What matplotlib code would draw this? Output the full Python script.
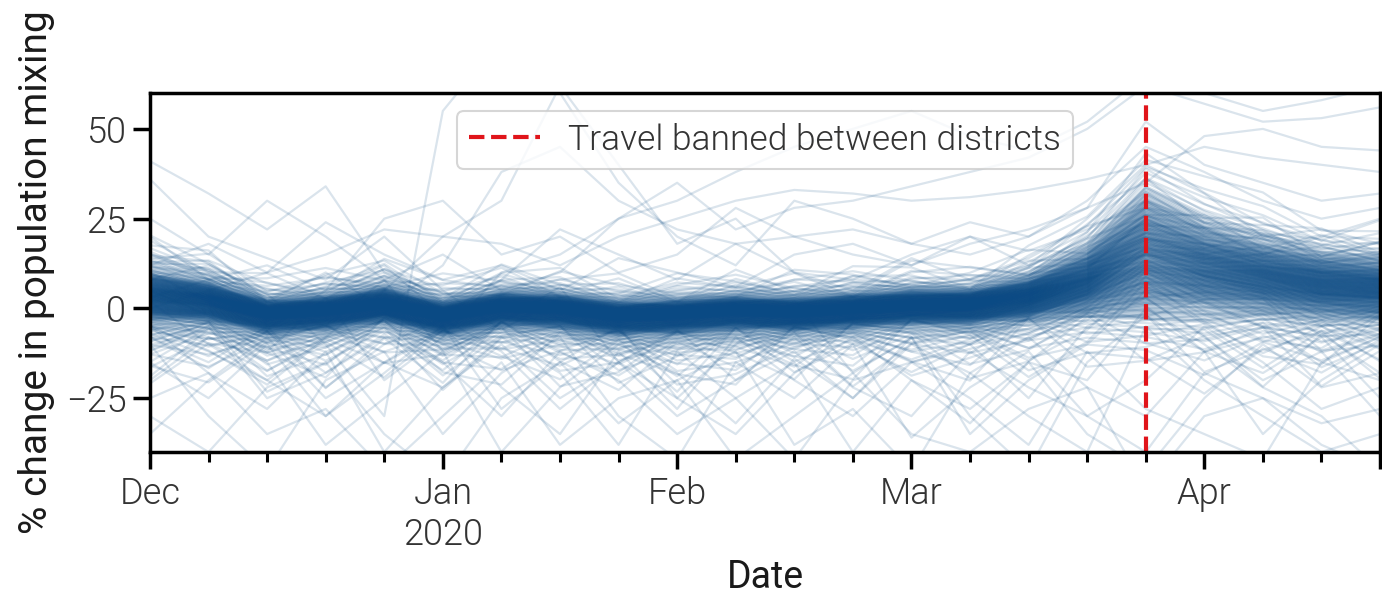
import numpy as np
import pandas as pd
import matplotlib
matplotlib.use("Agg")
import matplotlib.pyplot as plt

# Weekly dates (week ending Sunday)
weeks = pd.date_range("2019-12-01", periods=22, freq="W-SUN")
ban_date = "2020-03-29"

# Typical district trajectory and spread of the bulk of districts
median = [4, 2.5, -1.5, -0.5, 1.5, -2, 0.5, 0, -2, -1.5, -0.5, -1, 0, 1, 1, 3,
          6.5, 12, 10, 8, 6, 5]
spread_hi = [4.5, 3.5, 2.8, 2.8, 3, 2.8, 2.8, 2.8, 2.8, 2.8, 2.8, 2.8, 2.8, 3, 3, 3.5,
             4.5, 6.5, 5.5, 5, 4.5, 4.5]
spread_lo = [4.5, 3.8, 3.2, 3.2, 3.2, 3.2, 3.2, 3.2, 3.2, 3.2, 3.2, 3.2, 3.2, 3.2, 3.2, 3.6,
             4.2, 5.5, 5.5, 5.2, 4.8, 4.8]
surge = [0, 0, 0, 0, 0, 0, 0, 0, 0, 0, 0, 0, 0, 0, 0.5, 1.5, 5, 13, 8, 5.5, 4.5, 4]

# District offsets (in spread units), surge sensitivities and weekly wiggles
offsets = [-4.0, -3.4, -2.9, -2.5, -2.2, -1.9, -1.65,
           -1.45, -1.38, -1.31, -1.24, -1.17, -1.1, -1.04, -0.98, -0.92, -0.86,
           -0.8, -0.74, -0.68, -0.62, -0.56, -0.5, -0.45, -0.4, -0.35, -0.3,
           -0.25, -0.2, -0.15, -0.1, -0.05, 0.0, 0.05, 0.1, 0.15, 0.2, 0.25, 0.3,
           0.35, 0.4, 0.46, 0.52, 0.58, 0.64, 0.7, 0.77, 0.84, 0.91, 0.98, 1.05,
           1.12,
           1.3, 1.55, 1.85, 2.2, 2.7]
surge_weights = [-0.6, -0.2, 0.1, 0.4, 0.8, 1.2]
wiggles = [
    [0.6, -0.4, 0.8, -0.9, 0.3, -0.6, 0.9, -0.2, -0.8, 0.5, -0.3, 0.7, -0.9, 0.2, 0.6, -0.5, 0.1, 0.4, -0.7, 0.5, -0.2, 0.8],
    [-0.5, 0.7, -0.3, 0.4, -0.8, 0.9, -0.1, -0.7, 0.6, -0.9, 0.8, -0.4, 0.3, -0.6, 0.2, 0.9, -0.5, -0.2, 0.6, -0.8, 0.7, -0.3],
    [0.9, 0.1, -0.7, 0.5, 0.8, -0.3, -0.9, 0.6, 0.2, -0.4, -0.8, 0.9, 0.4, -0.7, -0.2, 0.3, 0.8, -0.6, -0.1, 0.7, -0.9, 0.2],
    [-0.2, -0.8, 0.5, 0.9, -0.4, 0.2, 0.7, -0.9, -0.3, 0.8, 0.1, -0.6, 0.9, 0.5, -0.8, -0.4, 0.6, 0.3, -0.9, -0.1, 0.5, -0.7],
    [0.3, 0.9, -0.9, -0.2, 0.6, -0.8, 0.4, 0.8, -0.6, 0.1, 0.5, -0.2, -0.7, 0.9, 0.4, -0.9, -0.3, 0.7, 0.2, -0.5, -0.6, 0.9],
    [-0.7, 0.3, 0.2, -0.6, 0.9, 0.5, -0.5, 0.1, 0.9, -0.7, -0.5, 0.3, 0.6, -0.3, -0.9, 0.7, 0.2, -0.8, 0.5, 0.9, -0.4, -0.1],
]
wiggle_scale = 0.6

# Districts with unusual mixing patterns
outliers = [
    [41, 32, 22, 34, 10, 4, 2, -3, 0, 2, -4, 1, 3, -2, 0, 4, 8, 15, 9, 6, 4, 3],
    [36, 20, 14, 8, 20, 5, -6, 3, 1, -5, 0, 2, -3, 1, 2, 5, 11, 25, 18, 12, 10, 8],
    [8, 12, 4, -10, -30, 55, 75, 60, 35, 20, 12, 30, 25, 18, 15, 20, 30, 45, 38, 30, 25, 28],
    [-5, -12, -20, -8, 5, 20, 30, 62, 40, 18, 25, 10, 8, 15, 20, 12, 25, 40, 32, 20, 22, 18],
    [-15, -25, -10, -30, -18, -5, -22, -35, -12, -28, -8, -20, -30, -15, -10, -25, -5, 3, -8, -20, -12, -30],
    [-10, -30, -45, -20, -12, -35, -18, -8, -30, -42, -15, -25, -10, -36, -22, -12, -30, -20, -5, -15, -28, -22],
    [-20, -8, -15, -38, -25, -12, -40, -22, -10, -18, -32, -14, -25, -8, -30, -45, -15, -2, -12, -35, -20, -10],
    [12, 18, 10, 24, 15, 8, 12, 5, 14, 10, 6, 15, 18, 12, 20, 16, 22, 30, 24, 20, 18, 15],
    [0, 5, 10, 15, 22, 20, 18, 12, 20, 25, 30, 33, 32, 30, 31, 33, 36, 40, 45, 42, 40, 38],
    [-25, -18, -35, -28, -45, -30, -15, -38, -25, -20, -42, -30, -18, -35, -40, -28, -22, -50, -30, -25, -38, -45],
    [5, -2, -12, 3, -20, -8, 10, 15, 25, 30, 38, 45, 50, 55, 48, 44, 52, 65, 60, 55, 58, 62],
    [-8, -15, -5, -22, -10, -3, -12, -28, -15, -6, -20, -12, -25, -10, -18, -8, -22, -30, -12, -18, -8, -25],
    [15, 10, 2, -5, 8, -12, -4, 6, -15, -25, -10, 2, -18, -8, -35, -20, -10, 5, 2, -5, -15, -8],
    [-30, -40, -22, -15, -35, -48, -25, -15, -32, -20, -12, -38, -28, -45, -18, -30, -40, -5, -20, -30, -40, -35],
    [20, 8, 12, 5, 25, 30, 15, 20, 10, 15, 28, 20, 22, 18, 24, 20, 28, 52, 40, 35, 30, 32],
    [3, 8, 2, 10, 0, 12, 38, 45, 30, 22, 18, 20, 15, 12, 18, 22, 28, 35, 48, 50, 45, 44],
    [-12, -5, -25, -18, -8, -15, -30, -12, -20, -35, -25, -15, -40, -20, -28, -15, -35, -45, -25, -10, -22, -18],
    [10, 2, -6, 5, 12, -2, 8, 22, 15, 8, 18, 10, 5, 14, 8, 12, 18, 28, 22, 15, 20, 25],
    [-35, -20, -8, -25, -15, -22, -8, -18, -38, -12, -25, -42, -20, -15, -25, -38, -12, -28, -35, -42, -15, -20],
    [25, 15, 30, 20, 8, 15, 5, 10, 25, 35, 22, 28, 30, 34, 38, 42, 50, 62, 57, 52, 53, 56],
    [-5, -18, -28, -12, -40, -22, -10, -25, -15, -30, -20, -8, -22, -30, -12, -22, -30, -40, -18, -25, -32, -28],
    [2, -10, -20, -30, -15, -5, -28, -15, -5, -25, -35, -18, -8, -20, -32, -15, -20, 0, -10, -22, -30, -45],
]

LINE_COLOR = "#0a4a84"
BAN_COLOR = "#e0141a"
TEXT_COLOR = "#333333"

plt.rcParams["font.family"] = ["Roboto", "DejaVu Sans"]
plt.rcParams["font.weight"] = 300

# Assemble one column per district
med = np.array(median, dtype=float)
s_hi = np.array(spread_hi, dtype=float)
s_lo = np.array(spread_lo, dtype=float)
srg = np.array(surge, dtype=float)
columns = {}
n = 0
for z in offsets:
    sp = s_hi if z >= 0 else s_lo
    for w, wig in zip(surge_weights, wiggles):
        columns[f"d{n}"] = (med + z * sp + w * srg
                            + (z * z + 0.5) * wiggle_scale * np.array(wig))
        n += 1
for row in outliers:
    columns[f"d{n}"] = np.array(row, dtype=float)
    n += 1
df = pd.DataFrame(columns, index=weeks)

fig, ax = plt.subplots(figsize=(13.82, 5.95), dpi=100)
fig.subplots_adjust(left=0.1085, right=0.9986, top=0.8437, bottom=0.2403)

df.plot(ax=ax, color=LINE_COLOR, alpha=0.15, lw=1.6, legend=False)

ban = ax.axvline(pd.Period(ban_date, freq="W-SUN").ordinal, color=BAN_COLOR,
                 ls="--", lw=3, label="Travel banned between districts")

ax.set_ylim(-40, 60)
ax.set_yticks([-25, 0, 25, 50])

for sp_name in ["left", "right", "top", "bottom"]:
    ax.spines[sp_name].set_linewidth(2.5)
    ax.spines[sp_name].set_color("black")

ax.tick_params(axis="both", which="major", length=12, width=2.5, color="black",
               labelsize=26, labelcolor=TEXT_COLOR, pad=5)
ax.tick_params(axis="x", which="minor", length=7, width=2.2, color="black",
               labelsize=26, labelcolor=TEXT_COLOR)
for lbl in ax.get_xticklabels(which="both"):
    lbl.set_rotation(0)
    lbl.set_ha("center")

ax.set_xlabel("Date", fontsize=27, color="#1a1a1a", labelpad=4)
ax.set_ylabel("% change in population mixing", fontsize=28, color="#1a1a1a",
              labelpad=8)

leg = ax.legend(handles=[ban], loc="upper center", fontsize=25.5, frameon=True,
                fancybox=True, framealpha=0.8, edgecolor="#cccccc",
                handlelength=2.0, borderpad=0.35)
leg.get_frame().set_linewidth(1.5)
for t in leg.get_texts():
    t.set_color(TEXT_COLOR)

fig.savefig("out.png", dpi=100)
